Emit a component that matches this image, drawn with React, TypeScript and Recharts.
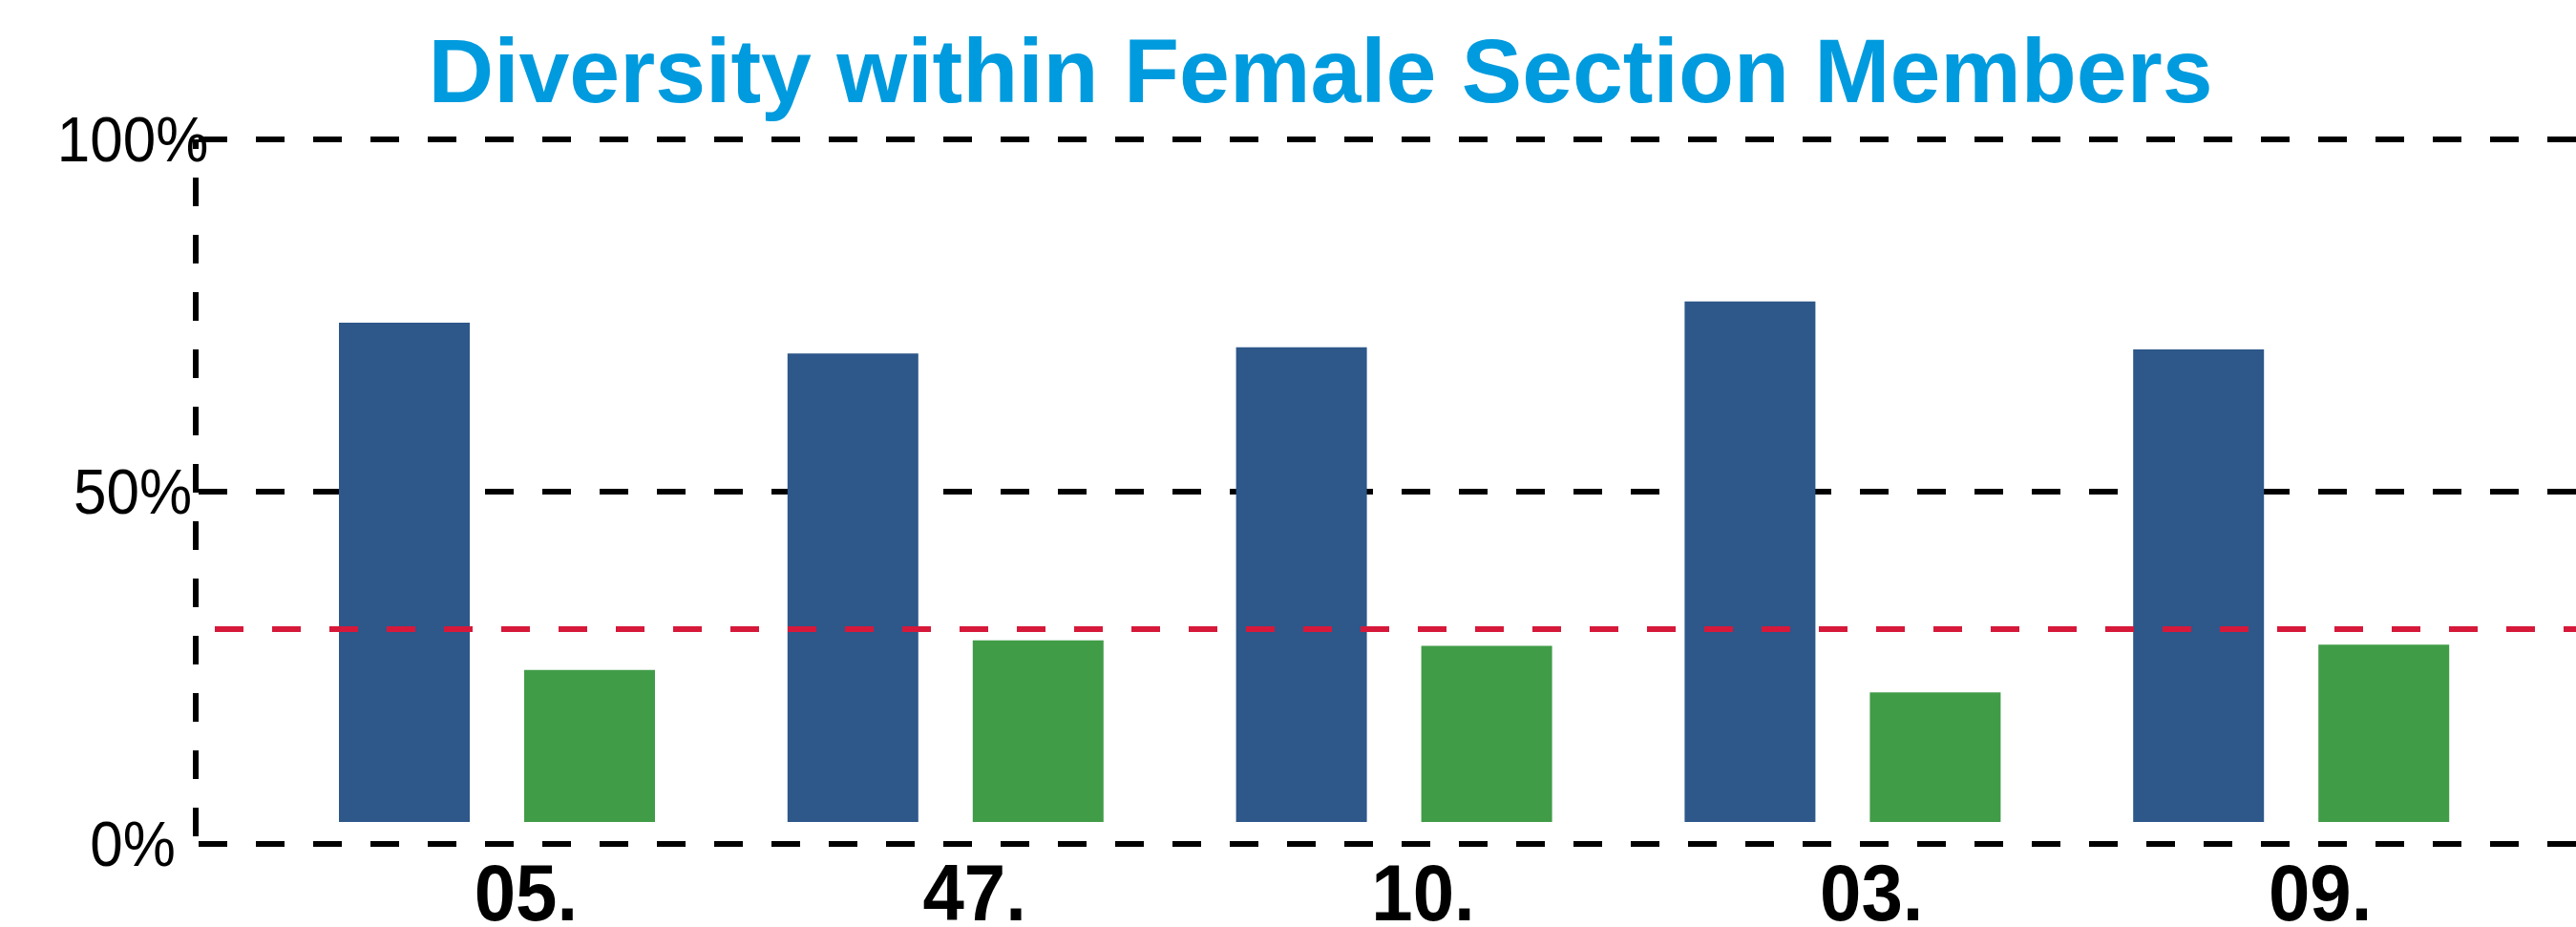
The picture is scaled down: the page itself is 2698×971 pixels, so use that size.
import { BarChart, Bar, XAxis, YAxis, CartesianGrid, ReferenceLine } from 'recharts';

const sections = ['05.', '47.', '10.', '03.', '09.'];
const majorityShare = [74.0, 69.6, 70.5, 77.0, 70.2];
const minorityShare = [24.7, 28.9, 28.1, 21.5, 28.3];
const barFloor = [3.1, 3.1, 3.1, 3.1, 3.1];
const targetShare = 30.5;
const yTicks = [0, 50, 100];

const data = sections.map((section, i) => ({
  section,
  majority: [barFloor[i], majorityShare[i]],
  minority: [barFloor[i], minorityShare[i]],
}));

const FONT = '"Liberation Sans", Arial, sans-serif';

// the source picture is a little stretched vertically, so the labels are too
const YTick = ({ x, y, payload }: any) => (
  <g transform={`translate(${x - 66},${y}) scale(1,1.08)`}>
    <text x={0} y={0} dy={21} textAnchor="middle" fontSize={62} fontFamily={FONT} fill="#000">
      {payload.value}%
    </text>
  </g>
);

const XTick = ({ x, y, payload }: any) => (
  <g transform={`translate(${x + 30},${y + 80}) scale(1,1.07)`}>
    <text x={0} y={0} textAnchor="middle" fontSize={78} fontWeight="bold" fontFamily={FONT} fill="#000">
      {payload.value}
    </text>
  </g>
);

export default function App() {
  return (
    <div style={{ position: 'relative', width: 2698, height: 971, overflow: 'hidden', background: '#fff' }}>
      <style>{'html,body{margin:0;overflow:hidden;}'}</style>
      {/* title */}
      <div
        style={{
          position: 'absolute',
          left: 1383,
          top: 27,
          transform: 'translateX(-50%)',
          whiteSpace: 'nowrap',
          fontFamily: FONT,
          fontWeight: 'bold',
          fontSize: 95,
          lineHeight: 1,
          color: '#009BDE',
        }}
      >
        Diversity within Female Section Members
      </div>
      <BarChart
        width={2698}
        height={971}
        data={data}
        margin={{ top: 146, right: 0, bottom: 0, left: 0 }}
        barSize={137}
        barGap={57}
      >
        <CartesianGrid
          vertical={false}
          stroke="#000"
          strokeWidth={6}
          strokeDasharray="30 30"
          strokeDashoffset={-3}
        />
        <XAxis
          dataKey="section"
          height={87}
          axisLine={false}
          tickLine={false}
          tickSize={0}
          tickMargin={0}
          padding={{ left: 81, right: 63 }}
          tick={<XTick />}
          interval={0}
        />
        <YAxis
          width={205}
          domain={[0, 100]}
          ticks={yTicks}
          tickLine={false}
          tickSize={0}
          tickMargin={0}
          axisLine={{ stroke: '#000', strokeWidth: 6, strokeDasharray: '30 30', strokeDashoffset: 20 }}
          tick={<YTick />}
        />
        <Bar dataKey="majority" fill="#2E578A" isAnimationActive={false} />
        <Bar dataKey="minority" fill="#419C47" isAnimationActive={false} />
        <ReferenceLine
          y={targetShare}
          stroke="#D6193A"
          strokeWidth={6}
          strokeDasharray="30 30"
          strokeDashoffset={40}
        />
      </BarChart>
    </div>
  );
}
